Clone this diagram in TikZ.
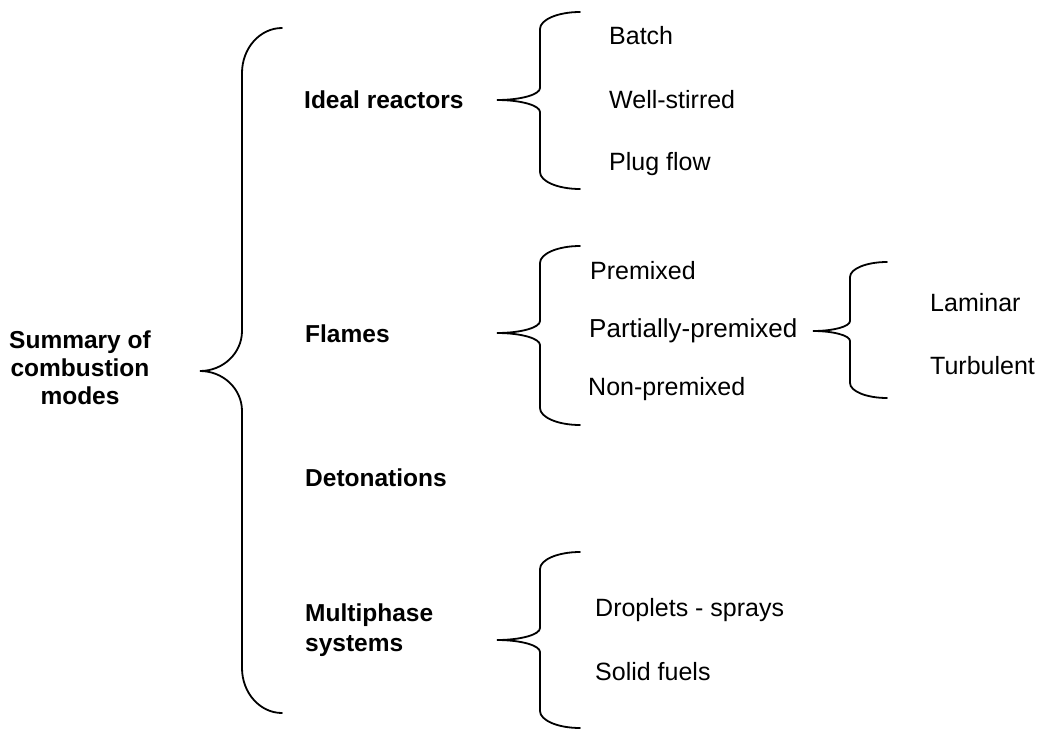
\documentclass[tikz,border=0pt]{standalone}
\usepackage{fontspec}
\setmainfont{Liberation Sans}
\begin{document}
\begin{tikzpicture}[x=1pt,y=-1pt,
  lbl/.style={anchor=west,inner sep=0pt,text height=18pt,text depth=0pt,
    font=\fontsize{25}{30}\selectfont},
  head/.style={lbl,font=\fontsize{24.5}{30}\selectfont\bfseries,align=left},
  brace/.style={line width=1.8pt,line cap=round}]
\useasboundingbox (0,0) rectangle (1038,731);

% curly brace: tip x, tip y, stem x, end x, top y, bottom y, corner height, tip height
\newcommand\combrace[8]{%
  \draw[brace] (#4,#5)
    .. controls ({#4-0.552*(#4-#3)},#5) and (#3,{#5+0.448*#7}) .. (#3,{#5+#7})
    -- (#3,{#2-#8})
    .. controls (#3,{#2-0.448*#8}) and ({#1+0.552*(#3-#1)},#2) .. (#1,#2)
    .. controls ({#1+0.552*(#3-#1)},#2) and (#3,{#2+0.448*#8}) .. (#3,{#2+#8})
    -- (#3,{#6-#7})
    .. controls (#3,{#6-0.448*#7}) and ({#4-0.552*(#4-#3)},#6) .. (#4,#6);}

% root
\node[font=\fontsize{24.5}{28}\selectfont\bfseries,align=center,inner sep=0pt]
  (root) at (80,368) {Summary of\\combustion\\modes};

% main brace
\combrace{200}{371}{242}{282}{28}{713}{45}{40}

% first level
\node[head] (ideal) at (304,99) {Ideal reactors};
\node[head] (flames) at (305,333) {Flames};
\node[head] (deto) at (305,477) {Detonations};
\node[head,text height=18pt] (multi) at (305,642) {Multiphase\\systems};

% ideal reactors
\combrace{497}{100}{540}{580}{12}{189}{17}{12}
\node[lbl] (batch) at (609,35) {Batch};
\node[lbl] (wells) at (609,99) {Well-stirred};
\node[lbl] (plug) at (609,161) {Plug flow};

% flames
\combrace{497}{333}{540}{580}{246}{425}{17}{12}
\node[lbl] (prem) at (590,270) {Premixed};
\node[lbl,font=\fontsize{26}{30}\selectfont] (pprem) at (589,328) {Partially-premixed};
\node[lbl] (nprem) at (588,386) {Non-premixed};

% flow regime
\combrace{813}{331}{850}{887}{262}{398}{15}{10}
\node[lbl] (lam) at (930,302) {Laminar};
\node[lbl] (turb) at (930,365) {Turbulent};

% multiphase systems
\combrace{497}{640}{540}{580}{552}{728}{17}{12}
\node[lbl] (drop) at (595,607) {Droplets - sprays};
\node[lbl] (solid) at (595,671) {Solid fuels};
\end{tikzpicture}
\end{document}
